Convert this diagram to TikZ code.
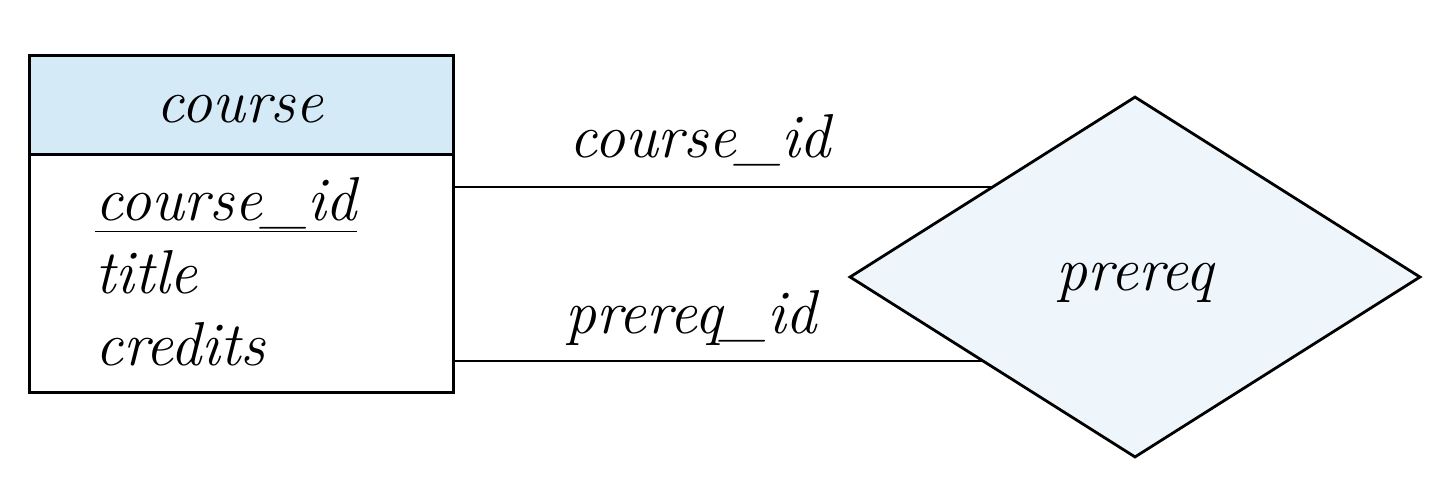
\documentclass[tikz,border=0pt]{standalone}
\usepackage{fontspec}
\usetikzlibrary{shapes.geometric,backgrounds}
\definecolor{headblue}{HTML}{D5EAF7}
\definecolor{relblue}{HTML}{EEF6FC}
\begin{document}
\begin{tikzpicture}[x=0.5pt,y=-0.5pt,
  txt/.style={font=\fontsize{31}{36}\selectfont\itshape, inner sep=0pt},
  entbox/.style={draw, line width=1.4pt, inner sep=0pt, minimum width=212pt},
  relshape/.style={diamond, draw, line width=1.4pt, fill=relblue, inner sep=0pt, minimum width=285.5pt, minimum height=180.5pt},
  conn/.style={draw, line width=1.4pt}]
\useasboundingbox (0,0) rectangle (1444,478);
% entity
\node[entbox, fill=headblue, minimum height=49.5pt, anchor=north west] (head) at (28,54) {};
\node[entbox, fill=white, minimum height=119pt, anchor=north west] (body) at (28,153) {};
\node[txt, anchor=base] (ename) at (240,122) {course};
\node[txt, anchor=base west] (a1) at (95,220) {\underline{course\_id}};
\node[txt, anchor=base west] (a2) at (95,293) {title};
\node[txt, anchor=base west] (a3) at (95,365) {credits};
% relationship
\node[relshape] (rel) at (1135,277) {};
\node[txt, anchor=base] (rname) at (1135,290) {prereq};
% connectors
\coordinate (c1) at (452,187);
\coordinate (c2) at (452,361);
\begin{scope}[on background layer]
\path[conn] (c1) -- (c1 -| rel.center);
\path[conn] (c2) -- (c2 -| rel.center);
\end{scope}
\node[txt, anchor=base] (l1) at (700,157) {course\_id};
\node[txt, anchor=base] (l2) at (691,333) {prereq\_id};
\end{tikzpicture}
\end{document}
